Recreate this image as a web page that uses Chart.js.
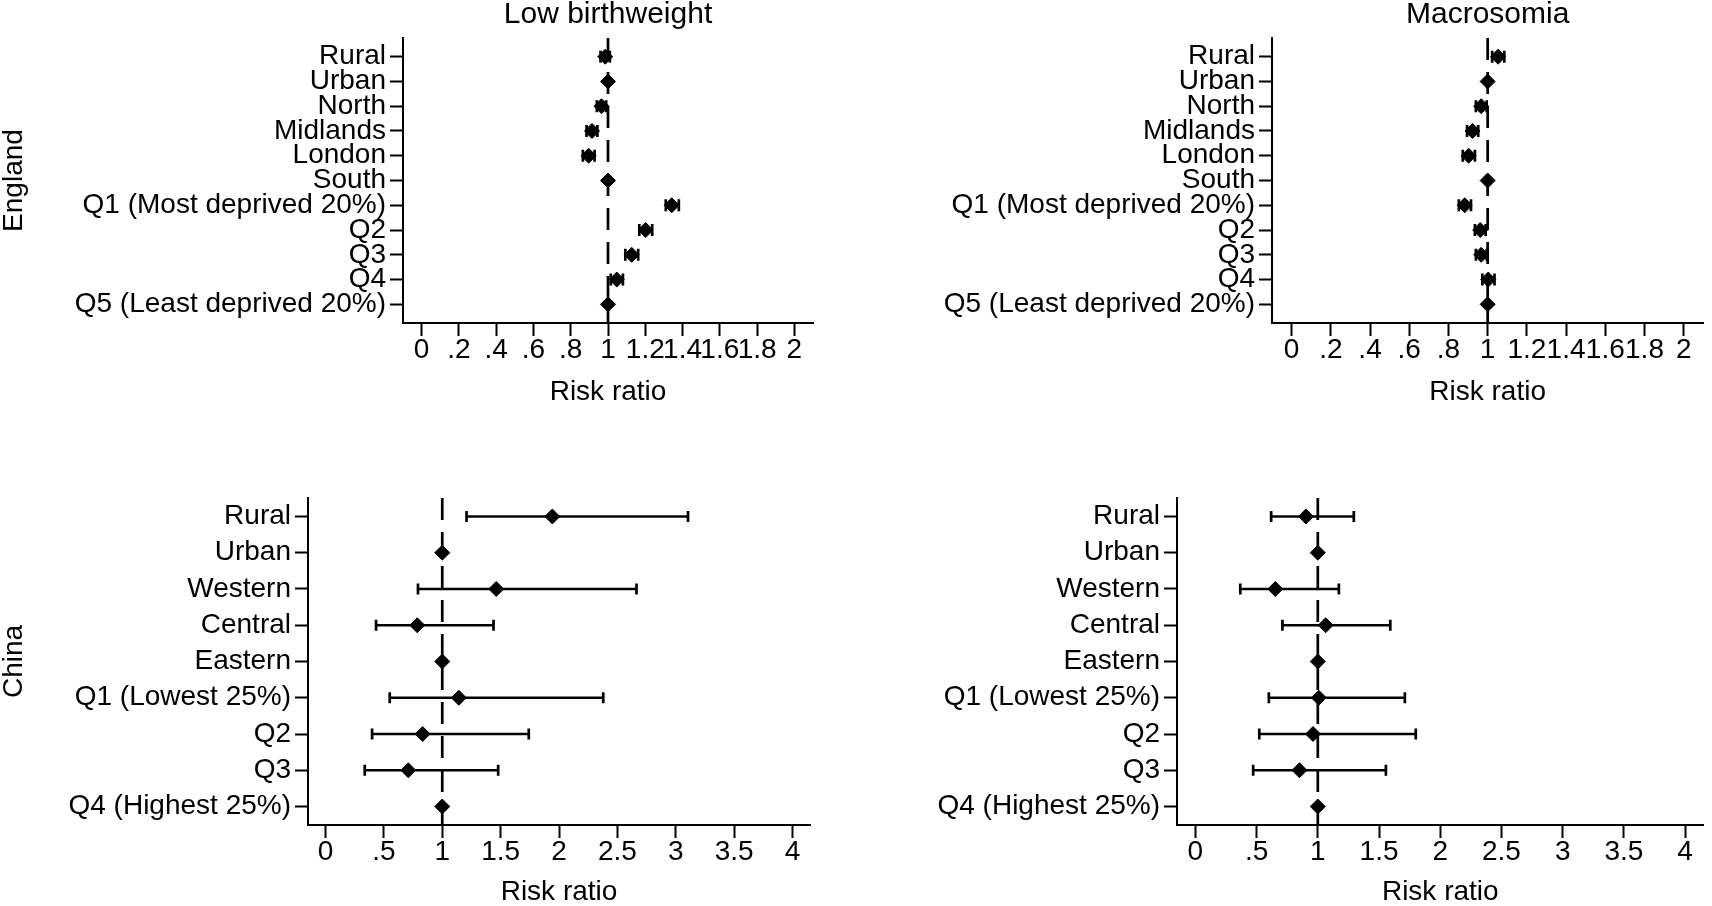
<!DOCTYPE html>
<html>
<head>
<meta charset="utf-8">
<title>Risk ratios - England and China</title>
<script src="https://cdn.jsdelivr.net/npm/chart.js@4.4.1/dist/chart.umd.min.js"></script>
<style>
  html, body { margin: 0; padding: 0; background: #fff; }
  #page { position: relative; width: 1712px; height: 906px; overflow: hidden; background: #fff; }
  #page canvas { position: absolute; }
</style>
</head>
<body>
<div id="page">
  <canvas id="lbwEngland" width="856" height="440" style="left:0px;top:0px"></canvas>
  <canvas id="macEngland" width="856" height="440" style="left:856px;top:0px"></canvas>
  <canvas id="lbwChina" width="856" height="466" style="left:0px;top:440px"></canvas>
  <canvas id="macChina" width="856" height="466" style="left:856px;top:440px"></canvas>
</div>
<script>
// row labels (top to bottom)
const englandRows = ['Rural', 'Urban', 'North', 'Midlands', 'London', 'South',
    'Q1 (Most deprived 20%)', 'Q2', 'Q3', 'Q4', 'Q5 (Least deprived 20%)'];
const chinaRows = ['Rural', 'Urban', 'Western', 'Central', 'Eastern',
    'Q1 (Lowest 25%)', 'Q2', 'Q3', 'Q4 (Highest 25%)'];

// x axis ticks
const englandTickValues = [0, 0.2, 0.4, 0.6, 0.8, 1, 1.2, 1.4, 1.6, 1.8, 2];
const englandTickLabels = ['0', '.2', '.4', '.6', '.8', '1', '1.2', '1.4', '1.6', '1.8', '2'];
const chinaTickValues = [0, 0.5, 1, 1.5, 2, 2.5, 3, 3.5, 4];
const chinaTickLabels = ['0', '.5', '1', '1.5', '2', '2.5', '3', '3.5', '4'];

// risk ratios and 95% CI (null = reference group)
const lbwEnglandRR = [0.985, 1, 0.965, 0.914, 0.896, 1, 1.342, 1.202, 1.127, 1.047, 1];
const lbwEnglandLo = [0.96, null, 0.94, 0.885, 0.865, null, 1.31, 1.168, 1.093, 1.015, null];
const lbwEnglandHi = [1.01, null, 0.99, 0.943, 0.928, null, 1.38, 1.237, 1.162, 1.08, null];

const macEnglandRR = [1.053, 1, 0.967, 0.923, 0.903, 1, 0.883, 0.962, 0.967, 1.003, 1];
const macEnglandLo = [1.023, null, 0.94, 0.895, 0.873, null, 0.853, 0.935, 0.94, 0.973, null];
const macEnglandHi = [1.085, null, 0.995, 0.952, 0.935, null, 0.915, 0.99, 0.995, 1.035, null];

const lbwChinaRR = [1.943, 1, 1.462, 0.786, 1, 1.142, 0.832, 0.709, 1];
const lbwChinaLo = [1.208, null, 0.792, 0.433, null, 0.55, 0.399, 0.336, null];
const lbwChinaHi = [3.105, null, 2.664, 1.439, null, 2.379, 1.741, 1.479, null];

const macChinaRR = [0.903, 1, 0.653, 1.064, 1, 1.008, 0.961, 0.85, 1];
const macChinaLo = [0.619, null, 0.367, 0.711, null, 0.60, 0.522, 0.472, null];
const macChinaHi = [1.294, null, 1.172, 1.592, null, 1.711, 1.80, 1.556, null];

Chart.defaults.font.family = "'Liberation Sans', Arial, Helvetica, sans-serif";
Chart.defaults.color = '#000';

function buildDatasets(rr, lo, hi, yMin, yMax, capRadius) {
    const sets = [];

    // dashed reference line at RR = 1
    sets.push({
        data: [{ x: 1, y: yMin }, { x: 1, y: yMax }],
        showLine: true,
        borderColor: '#000',
        borderWidth: 2.7,
        borderDash: [22, 12],
        pointRadius: 0,
        order: 3
    });

    // confidence intervals, the points themselves are the caps
    rr.forEach((v, i) => {
        if (lo[i] === null) return;
        sets.push({
            data: [{ x: lo[i], y: i + 1 }, { x: hi[i], y: i + 1 }],
            showLine: true,
            borderColor: '#000',
            borderWidth: 2.7,
            pointStyle: 'line',
            rotation: 90,
            pointRadius: capRadius,
            pointBorderColor: '#000',
            pointBorderWidth: 2.7,
            order: 2
        });
    });

    // point estimates
    sets.push({
        data: rr.map((v, i) => ({ x: v, y: i + 1 })),
        pointStyle: 'rectRot',
        pointRadius: 7.5,
        backgroundColor: '#000',
        borderColor: '#000',
        borderWidth: 1,
        order: 0
    });

    return sets;
}

function makePanel(canvasId, p) {
    const ctx = document.getElementById(canvasId).getContext('2d');
    const axisGrid = {
        display: true,
        drawOnChartArea: false,
        drawTicks: true,
        tickLength: 13,
        tickWidth: 2,
        tickColor: '#000'
    };
    const axisBorder = { display: true, color: '#000', width: 2 };

    return new Chart(ctx, {
        type: 'scatter',
        data: { datasets: buildDatasets(p.rr, p.lo, p.hi, p.yMin, p.yMax, p.cap) },
        options: {
            responsive: false,
            animation: false,
            devicePixelRatio: 1,
            events: [],
            layout: { padding: p.padding },
            plugins: {
                legend: { display: false },
                tooltip: { enabled: false },
                title: {
                    display: !!p.title,
                    text: p.title || '',
                    fullSize: false,
                    color: '#000',
                    font: { size: 30, weight: 'normal', lineHeight: 1 },
                    padding: { top: 0, bottom: 8 }
                }
            },
            scales: {
                x: {
                    type: 'linear',
                    position: 'bottom',
                    min: p.xMin,
                    max: p.xMax,
                    afterFit: s => { s.height = p.xAxisHeight; },
                    afterBuildTicks: s => { s.ticks = p.tickValues.map(v => ({ value: v })); },
                    ticks: {
                        autoSkip: false,
                        maxRotation: 0,
                        minRotation: 0,
                        padding: 0,
                        color: '#000',
                        font: { size: 28, lineHeight: 1 },
                        callback: (v, i) => p.tickLabels[i]
                    },
                    grid: axisGrid,
                    border: axisBorder,
                    title: {
                        display: true,
                        text: 'Risk ratio',
                        color: '#000',
                        font: { size: 28, lineHeight: 1 },
                        padding: { top: 0, bottom: p.xTitlePad }
                    }
                },
                y: {
                    type: 'linear',
                    position: 'left',
                    reverse: true,
                    min: p.yMin,
                    max: p.yMax,
                    afterFit: s => { s.width = p.yAxisWidth; },
                    afterBuildTicks: s => { s.ticks = p.rows.map((r, i) => ({ value: i + 1 })); },
                    ticks: {
                        autoSkip: false,
                        padding: 4,
                        color: '#000',
                        font: { size: 28, lineHeight: 1 },
                        callback: (v, i) => p.rows[i]
                    },
                    grid: axisGrid,
                    border: axisBorder,
                    title: {
                        display: !!p.rowTitle,
                        text: p.rowTitle || '',
                        color: '#000',
                        font: { size: 28, lineHeight: 1 },
                        padding: { top: 0, bottom: 0 }
                    }
                }
            }
        }
    });
}

document.addEventListener('DOMContentLoaded', () => {
    makePanel('lbwEngland', {
        title: 'Low birthweight', rowTitle: 'England',
        rows: englandRows, rr: lbwEnglandRR, lo: lbwEnglandLo, hi: lbwEnglandHi,
        tickValues: englandTickValues, tickLabels: englandTickLabels,
        xMin: -0.1, xMax: 2.1, yMin: 0.245, yMax: 11.755, cap: 6,
        padding: { left: 0, right: 43, top: 0, bottom: 0 },
        yAxisWidth: 403, xAxisHeight: 117, xTitlePad: 34
    });
    makePanel('macEngland', {
        title: 'Macrosomia', rowTitle: '',
        rows: englandRows, rr: macEnglandRR, lo: macEnglandLo, hi: macEnglandHi,
        tickValues: englandTickValues, tickLabels: englandTickLabels,
        xMin: -0.1, xMax: 2.1, yMin: 0.245, yMax: 11.755, cap: 6,
        padding: { left: 0, right: 2, top: 0, bottom: 0 },
        yAxisWidth: 416, xAxisHeight: 117, xTitlePad: 34
    });
    makePanel('lbwChina', {
        title: '', rowTitle: 'China',
        rows: chinaRows, rr: lbwChinaRR, lo: lbwChinaLo, hi: lbwChinaHi,
        tickValues: chinaTickValues, tickLabels: chinaTickLabels,
        xMin: -0.15, xMax: 4.15, yMin: 0.49, yMax: 9.51, cap: 5.5,
        padding: { left: 0, right: 46, top: 58, bottom: 0 },
        yAxisWidth: 308, xAxisHeight: 81, xTitlePad: 0
    });
    makePanel('macChina', {
        title: '', rowTitle: '',
        rows: chinaRows, rr: macChinaRR, lo: macChinaLo, hi: macChinaHi,
        tickValues: chinaTickValues, tickLabels: chinaTickLabels,
        xMin: -0.15, xMax: 4.15, yMin: 0.49, yMax: 9.51, cap: 5.5,
        padding: { left: 0, right: 2, top: 58, bottom: 0 },
        yAxisWidth: 321, xAxisHeight: 81, xTitlePad: 0
    });
});
</script>
</body>
</html>
